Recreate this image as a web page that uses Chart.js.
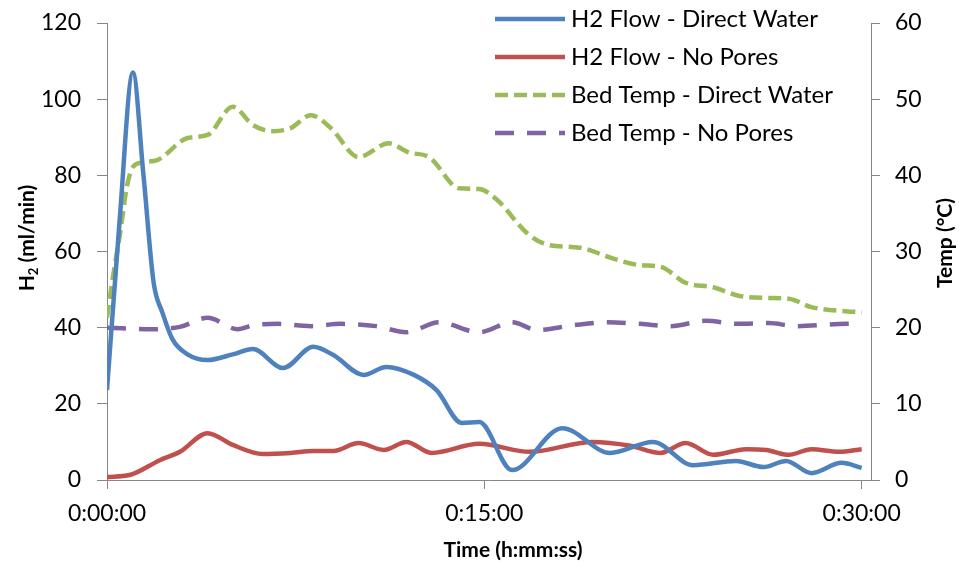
<!DOCTYPE html>
<html>
<head>
<meta charset="utf-8">
<script src="https://cdn.jsdelivr.net/npm/chart.js@4.4.1/dist/chart.umd.min.js"></script>
<style>
  html, body { margin: 0; padding: 0; background: #fff; }
  #wrap { position: relative; width: 959px; height: 565px; }
</style>
</head>
<body>
<div id="wrap"><canvas id="c" width="959" height="565"></canvas></div>
<script>
// ---- Data (time in minutes) ----
const seriesLabels = [
  "H2 Flow - Direct Water",
  "H2 Flow - No Pores",
  "Bed Temp - Direct Water",
  "Bed Temp - No Pores"
];

const h2DirectTimes  = [0, 0.5, 1.03, 1.45, 1.85, 2.2, 2.6, 3.2, 4.0, 5.0, 5.8, 7.0, 8.2, 9.0, 10.2, 11.1, 12.2, 13.1, 14.1, 14.8, 16.1, 18.1, 20.0, 21.7, 23.3, 25.0, 26.1, 27.0, 28.0, 29.2, 30.0];
const h2DirectValues = [23.6, 68, 107, 80, 52, 44, 37, 33, 31.5, 33, 34.4, 29.4, 35, 32.8, 27.6, 29.7, 27.6, 23.6, 15, 15.2, 2.6, 13.6, 7.1, 10, 3.9, 5, 3.4, 5, 1.8, 4.5, 3.2];

const h2NoPoresTimes  = [0, 0.9, 2.1, 2.9, 4.0, 5.0, 6.2, 7.3, 8.2, 9.0, 10.0, 11.0, 11.9, 12.9, 14.8, 16.8, 19.3, 20.8, 22.0, 23.0, 24.1, 25.4, 26.2, 27.1, 28.0, 29.1, 30.0];
const h2NoPoresValues = [0.8, 1.3, 5.2, 7.4, 12.3, 9.2, 6.8, 7.1, 7.6, 7.6, 9.7, 7.9, 10, 7.1, 9.5, 7.4, 10, 9, 7.1, 9.7, 6.6, 8.1, 7.9, 6.6, 8.1, 7.4, 8.1];

const tempDirectTimes  = [0, 0.2, 0.52, 0.79, 1.03, 1.4, 2.0, 3.2, 4.0, 5.0, 5.8, 6.6, 7.3, 8.1, 8.9, 10.0, 11.2, 12.0, 12.8, 14.0, 14.8, 15.5, 16.7, 17.5, 18.8, 20.1, 21.2, 22.0, 23.0, 24.1, 25.1, 26.2, 27.1, 28.0, 30.0];
const tempDirectValues = [21.3, 25.9, 32.4, 38.5, 41.1, 41.7, 42, 44.9, 45.3, 49, 46.6, 45.8, 46.2, 47.9, 46.2, 42.4, 44.2, 43, 42.4, 38.3, 38.2, 36.8, 32.4, 30.9, 30.5, 29.1, 28.2, 28, 25.9, 25.3, 24.2, 23.9, 23.8, 22.7, 22];

const tempNoPoresTimes  = [0, 1.8, 2.9, 4.0, 5.2, 5.8, 6.8, 8.1, 9.3, 10.7, 11.9, 13.2, 14.8, 16.1, 17.1, 18.5, 19.9, 21.2, 22.4, 23.8, 25.1, 26.3, 27.4, 29.4, 30.0];
const tempNoPoresValues = [20, 19.8, 20.1, 21.3, 19.8, 20.3, 20.5, 20.2, 20.5, 20.2, 19.4, 20.7, 19.4, 20.7, 19.7, 20.3, 20.7, 20.5, 20.2, 20.9, 20.5, 20.6, 20.2, 20.5, 20.5];

const xTickValues = [0, 15, 30];
const leftTitleMain = "H";
const leftTitleSub = "2";
const leftTitleRest = " (ml/min)";
const rightTitle = "Temp (°C)";
const xTitle = "Time (h:mm:ss)";

// ---- helpers ----
function pts(ts, vs) { return ts.map((t, i) => ({ x: t, y: vs[i] })); }
function fmtTime(m) {
  const h = Math.floor(m / 60);
  const mm = Math.floor(m % 60);
  const ss = Math.round((m - Math.floor(m)) * 60);
  return h + ":" + String(mm).padStart(2, "0") + ":" + String(ss).padStart(2, "0");
}

const FONT = "Lato, 'Open Sans', sans-serif";
const AXIS = "#868686";

const datasets = [
  { label: seriesLabels[0], data: pts(h2DirectTimes, h2DirectValues), yAxisID: "y",
    borderColor: "#4F81BD", borderWidth: 4.5, borderDash: [] },
  { label: seriesLabels[1], data: pts(h2NoPoresTimes, h2NoPoresValues), yAxisID: "y",
    borderColor: "#C0504D", borderWidth: 4.5, borderDash: [] },
  { label: seriesLabels[2], data: pts(tempDirectTimes, tempDirectValues), yAxisID: "y2",
    borderColor: "#9BBB59", borderWidth: 4.5, borderDash: [13, 6] },
  { label: seriesLabels[3], data: pts(tempNoPoresTimes, tempNoPoresValues), yAxisID: "y2",
    borderColor: "#8064A2", borderWidth: 4.5, borderDash: [19, 13] }
].map(d => Object.assign(d, {
  pointRadius: 0, fill: false, cubicInterpolationMode: "monotone", borderCapStyle: "butt"
}));

const customDraw = {
  id: "customDraw",
  afterDraw(chart) {
    const ctx = chart.ctx;
    ctx.save();
    // legend
    chart.data.datasets.forEach((ds, i) => {
      const y = 19 + 38 * i;
      ctx.beginPath();
      ctx.strokeStyle = ds.borderColor;
      ctx.lineWidth = ds.borderWidth;
      ctx.setLineDash(ds.borderDash || []);
      ctx.lineCap = "butt";
      ctx.moveTo(495, y);
      ctx.lineTo(565, y);
      ctx.stroke();
      ctx.setLineDash([]);
      ctx.fillStyle = "#000";
      ctx.font = "24px " + FONT;
      ctx.textAlign = "left";
      ctx.textBaseline = "alphabetic";
      ctx.fillText(ds.label, 571, y + 8);
    });
    // x title
    ctx.font = "bold 21px " + FONT;
    ctx.fillStyle = "#000";
    ctx.textAlign = "center";
    ctx.textBaseline = "alphabetic";
    ctx.fillText(xTitle, 513, 557);
    // left title (rotated)
    ctx.save();
    ctx.translate(34, 238);
    ctx.rotate(-Math.PI / 2);
    const fMain = "bold 21px " + FONT, fSub = "bold 13px " + FONT;
    ctx.font = fMain; const w1 = ctx.measureText(leftTitleMain).width;
    const w3 = ctx.measureText(leftTitleRest).width;
    ctx.font = fSub; const w2 = ctx.measureText(leftTitleSub).width;
    let x0 = -(w1 + w2 + w3) / 2;
    ctx.textAlign = "left";
    ctx.font = fMain; ctx.fillText(leftTitleMain, x0, 0);
    ctx.font = fSub; ctx.fillText(leftTitleSub, x0 + w1, 4);
    ctx.font = fMain; ctx.fillText(leftTitleRest, x0 + w1 + w2, 0);
    ctx.restore();
    // right title (rotated, reading bottom to top)
    ctx.save();
    ctx.translate(952, 243);
    ctx.rotate(-Math.PI / 2);
    ctx.font = "bold 21px " + FONT;
    ctx.textAlign = "center";
    ctx.fillText(rightTitle, 0, 0);
    ctx.restore();
    ctx.restore();
  }
};

function fitY(width) {
  return s => { s.width = width; s.paddingTop = 0; s.paddingBottom = 0; };
}

new Chart(document.getElementById("c"), {
  type: "line",
  data: { datasets },
  options: {
    responsive: false,
    animation: false,
    events: [],
    layout: { padding: { top: 23, left: 0, right: 0, bottom: 0 } },
    plugins: { legend: { display: false }, tooltip: { enabled: false } },
    scales: {
      x: {
        type: "linear", min: 0, max: 30.37,
        afterBuildTicks: s => { s.ticks = xTickValues.map(v => ({ value: v })); },
        afterFit: s => { s.height = 85; },
        grid: { display: true, drawOnChartArea: false, drawTicks: true, tickLength: 9, color: AXIS },
        border: { display: true, color: AXIS, width: 1 },
        ticks: { color: "#000", font: { family: FONT, size: 23 }, padding: 11, maxRotation: 0,
          callback: v => fmtTime(v) }
      },
      y: {
        position: "left", min: 0, max: 120,
        afterFit: fitY(107),
        grid: { display: true, drawOnChartArea: false, drawTicks: true, tickLength: 10, color: AXIS },
        border: { display: true, color: AXIS, width: 1 },
        ticks: { stepSize: 20, color: "#000", font: { family: FONT, size: 23 }, padding: 16 }
      },
      y2: {
        position: "right", min: 0, max: 60,
        afterFit: fitY(88),
        grid: { display: true, drawOnChartArea: false, drawTicks: true, tickLength: 9, color: AXIS },
        border: { display: true, color: AXIS, width: 1 },
        ticks: { stepSize: 10, color: "#000", font: { family: FONT, size: 23 }, padding: 15 }
      }
    }
  },
  plugins: [customDraw]
});
</script>
</body>
</html>
